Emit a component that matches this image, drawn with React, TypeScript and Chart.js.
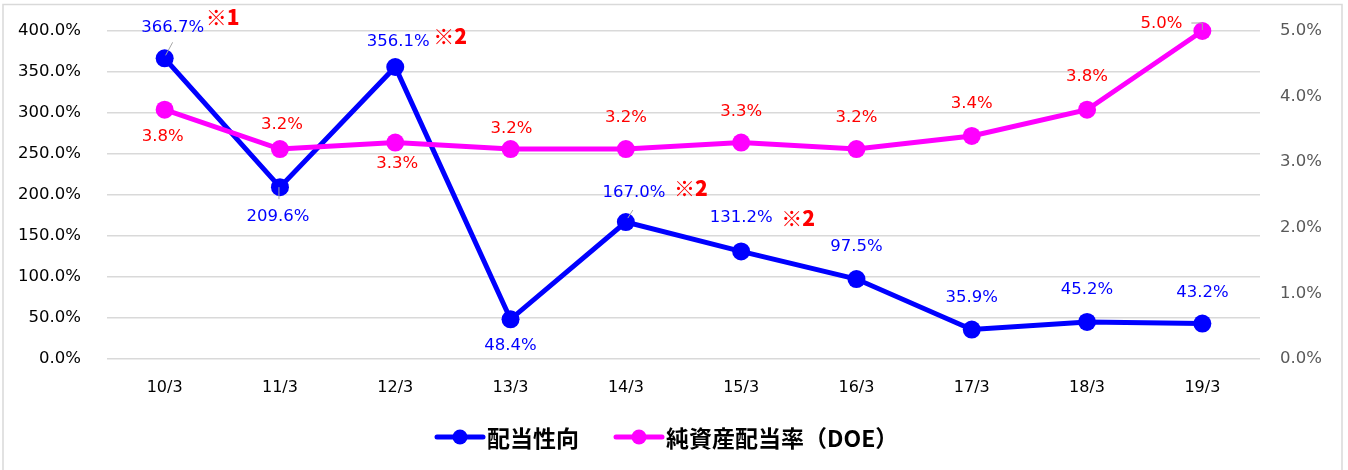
import React, { useEffect, useRef } from "react";
import { Chart, registerables } from "chart.js";

Chart.register(...registerables);

const categories = ["10/3", "11/3", "12/3", "13/3", "14/3", "15/3", "16/3", "17/3", "18/3", "19/3"];
const payoutRatio = [366.7, 209.6, 356.1, 48.4, 167.0, 131.2, 97.5, 35.9, 45.2, 43.2];
const doe = [3.8, 3.2, 3.3, 3.2, 3.2, 3.3, 3.2, 3.4, 3.8, 5.0];
const payoutNotes = ["※1", "", "※2", "", "※2", "※2", "", "", "", ""];
const leftTicks = [0, 50, 100, 150, 200, 250, 300, 350, 400];
const rightTicks = [0, 1, 2, 3, 4, 5];
const seriesNames = ["配当性向", "純資産配当率（DOE）"];

// label offsets (style) relative to each point
const payoutLabelOffsets: [number, number][] = [
  [8, -31], [-2, 30], [3, -25], [0, 26], [8, -29], [0, -34], [0, -32], [0, -32], [0, -32], [0, -31],
];
const doeLabelOffsets: [number, number][] = [
  [-2, 27], [2, -24], [2, 21], [1, -20], [0, -31], [0, -31], [0, -31], [0, -32], [0, -33], [-41, -7],
];
const noteOffsets: [number, number][] = [
  [58, -41], [0, 0], [55, -31], [0, 0], [65, -34], [57, -33], [0, 0], [0, 0], [0, 0], [0, 0],
];
const payoutLeaders: (number[] | null)[] = [
  [8, -16, 1, -3], [-1, 0, -1, 12], null, null, [7, -12, 2, -4], null, null, null, null, null,
];
const doeLeaders: (number[] | null)[] = [null, null, null, null, null, null, null, null, null, [-11, -8, 0, -8, 0, -1]];

const BLUE = "#0000FF";
const MAGENTA = "#FF00FF";
const FONT = "'DejaVu Sans', sans-serif";

const labelPlugin = {
  id: "customLabels",
  afterDraw(chart: any) {
    const ctx = chart.ctx;
    ctx.save();
    // border frame
    ctx.strokeStyle = "#d9d9d9";
    ctx.lineWidth = 1.5;
    ctx.strokeRect(3, 4.5, 1339, 470);

    const drawSet = (di: number, values: number[], fmt: (v: number) => string, offs: [number, number][], color: string, leaders: (number[] | null)[]) => {
      const meta = chart.getDatasetMeta(di);
      meta.data.forEach((el: any, i: number) => {
        const l = leaders[i];
        if (l) {
          ctx.strokeStyle = "#a6a6a6";
          ctx.lineWidth = 1;
          ctx.beginPath();
          ctx.moveTo(el.x + l[0], el.y + l[1]);
          for (let k = 2; k < l.length; k += 2) ctx.lineTo(el.x + l[k], el.y + l[k + 1]);
          ctx.stroke();
        }
        ctx.fillStyle = color;
        ctx.font = `16.5px ${FONT}`;
        ctx.textAlign = "center";
        ctx.textBaseline = "middle";
        ctx.fillText(fmt(values[i]), el.x + offs[i][0], el.y + offs[i][1]);
      });
    };
    drawSet(0, payoutRatio, (v) => v.toFixed(1) + "%", payoutLabelOffsets, BLUE, payoutLeaders);
    drawSet(1, doe, (v) => v.toFixed(1) + "%", doeLabelOffsets, "#FF0000", doeLeaders);

    // notes
    const meta0 = chart.getDatasetMeta(0);
    ctx.fillStyle = "#FF0000";
    ctx.font = `900 21px 'Noto Sans CJK JP', sans-serif`;
    ctx.textAlign = "center";
    ctx.textBaseline = "middle";
    meta0.data.forEach((el: any, i: number) => {
      if (payoutNotes[i]) ctx.fillText(payoutNotes[i], el.x + noteOffsets[i][0], el.y + noteOffsets[i][1]);
    });

    // legend
    const ly = 437;
    const items = [
      { x: 436, color: BLUE, text: seriesNames[0] },
      { x: 615, color: MAGENTA, text: seriesNames[1] },
    ];
    items.forEach((it) => {
      ctx.strokeStyle = it.color;
      ctx.lineWidth = 5;
      ctx.lineCap = "round";
      ctx.beginPath();
      ctx.moveTo(it.x + 1, ly);
      ctx.lineTo(it.x + 47, ly);
      ctx.stroke();
      ctx.fillStyle = it.color;
      ctx.beginPath();
      ctx.arc(it.x + 24, ly, 7.5, 0, Math.PI * 2);
      ctx.fill();
      ctx.fillStyle = "#000";
      ctx.font = `bold 23px 'Noto Sans CJK JP', sans-serif`;
      ctx.textAlign = "left";
      ctx.textBaseline = "middle";
      ctx.fillText(it.text, it.x + 51, ly + 1);
    });
    ctx.restore();
  },
};

export default function App() {
  const ref = useRef<HTMLCanvasElement>(null);
  useEffect(() => {
    if (!ref.current) return;
    const chart = new Chart(ref.current, {
      type: "line",
      data: {
        labels: categories,
        datasets: [
          {
            label: seriesNames[0],
            data: payoutRatio,
            yAxisID: "y",
            borderColor: BLUE,
            backgroundColor: BLUE,
            borderWidth: 5,
            pointRadius: 9,
            pointHoverRadius: 9,
            pointBackgroundColor: BLUE,
            pointBorderWidth: 0,
            order: 2,
            clip: false as any,
          },
          {
            label: seriesNames[1],
            data: doe,
            yAxisID: "y1",
            borderColor: MAGENTA,
            backgroundColor: MAGENTA,
            borderWidth: 5,
            pointRadius: 9,
            pointHoverRadius: 9,
            pointBackgroundColor: MAGENTA,
            pointBorderWidth: 0,
            order: 1,
            clip: false as any,
          },
        ],
      },
      options: {
        animation: false,
        responsive: false,
        layout: { autoPadding: false, padding: { top: 31, left: 0, right: 0, bottom: 0 } },
        plugins: { legend: { display: false }, tooltip: { enabled: false } },
        scales: {
          x: {
            offset: true,
            grid: { display: false, drawTicks: false },
            border: { display: false },
            ticks: { color: "#000", font: { family: FONT, size: 16 }, padding: 19, maxRotation: 0 },
            afterFit: (s: any) => { s.height = 111; s.paddingLeft = 0; s.paddingRight = 0; },
          },
          y: {
            position: "left",
            min: 0,
            max: 400,
            afterBuildTicks: (s: any) => { s.ticks = leftTicks.map((v) => ({ value: v })); },
            grid: { color: "#d9d9d9", lineWidth: 1.5, drawTicks: false },
            border: { display: false },
            ticks: { color: "#000", font: { family: FONT, size: 16.5 }, padding: 26, callback: (v: any) => Number(v).toFixed(1) + "%" },
            afterFit: (s: any) => { s.width = 107; s.paddingTop = 0; s.paddingBottom = 0; },
          },
          y1: {
            position: "right",
            min: 0,
            max: 5,
            afterBuildTicks: (s: any) => { s.ticks = rightTicks.map((v) => ({ value: v })); },
            grid: { display: false, drawTicks: false },
            border: { display: false },
            ticks: { color: "#595959", font: { family: FONT, size: 16.5 }, padding: 20, callback: (v: any) => Number(v).toFixed(1) + "%" },
            afterFit: (s: any) => { s.width = 88; s.paddingTop = 0; s.paddingBottom = 0; },
          },
        },
      },
      plugins: [labelPlugin],
    });
    return () => chart.destroy();
  }, []);
  return (
    <div style={{ position: "fixed", left: 0, top: 0, width: 1348, height: 470, background: "#fff" }}>
      <canvas ref={ref} width={1348} height={470} />
    </div>
  );
}
